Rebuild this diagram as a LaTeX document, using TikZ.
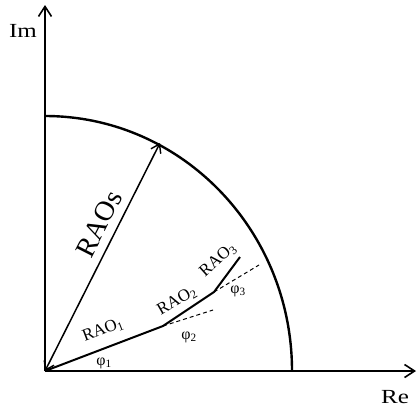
\documentclass[tikz,border=0pt]{standalone}
\usepackage{fontspec}
\setmainfont{Liberation Serif}
\usetikzlibrary{arrows.meta}
\begin{document}
\begin{tikzpicture}[x=1pt,y=-1pt,
  axis/.style={line width=2pt,-{Straight Barb[length=10pt,width=13pt,line width=1.6pt]}},
  vec/.style={line width=1.5pt},
  dashline/.style={line width=1pt,dash pattern=on 4pt off 3pt},
  lbl/.style={inner sep=0pt,font=\fontsize{20}{20}\selectfont,xscale=1.25},
  rao/.style={inner sep=0pt,font=\fontsize{17}{17}\selectfont},
  phi/.style={inner sep=0pt,font=\fontsize{16}{16}\selectfont}]
\useasboundingbox (0,0) rectangle (419,410);
\coordinate (O) at (45,371);
\coordinate (ImEnd) at (45,5);
\coordinate (ReEnd) at (416,371);
\coordinate (ArcTop) at (45,116);
\coordinate (S) at (160,143);
\coordinate (P1) at (163,326);
\coordinate (P2) at (214,292);
\coordinate (P3) at (240,257);
\coordinate (D1) at (213,310);
\coordinate (D2) at (259,265);
% axes
\draw[axis] (O) -- (ImEnd);
\draw[axis] (O) -- (ReEnd);
% arc
\draw[line width=2.4pt] (ArcTop) arc[start angle=90,end angle=0,x radius=247pt,y radius=255pt];
% RAOs arrow
\draw[vec,{Straight Barb[length=8pt,width=11pt,line width=1.4pt]}-{Straight Barb[length=8pt,width=11pt,line width=1.4pt]}] (O) -- (S);
% RAO polyline
\draw[vec,line width=2pt] (O) -- (P1) -- (P2) -- (P3);
\draw[dashline] (P1) -- (D1);
\draw[dashline] (P2) -- (D2);
% labels
\node[lbl] (im) at (23,31) {Im};
\node[lbl] (re) at (395,397) {Re};
\node[inner sep=0pt,font=\fontsize{28}{28}\selectfont,rotate=63] (raos) at (99,224) {RAOs};
\node[rao,rotate=21] (r1) at (103,330) {RAO\textsubscript{1}};
\node[rao,rotate=30] (r2) at (177,301) {RAO\textsubscript{2}};
\node[rao,rotate=42] (r3) at (218,260) {RAO\textsubscript{3}};
\node[phi] (f1) at (104,363) {φ\textsubscript{1}};
\node[phi] (f2) at (189,337) {φ\textsubscript{2}};
\node[phi] (f3) at (238,291) {φ\textsubscript{3}};
\end{tikzpicture}
\end{document}
